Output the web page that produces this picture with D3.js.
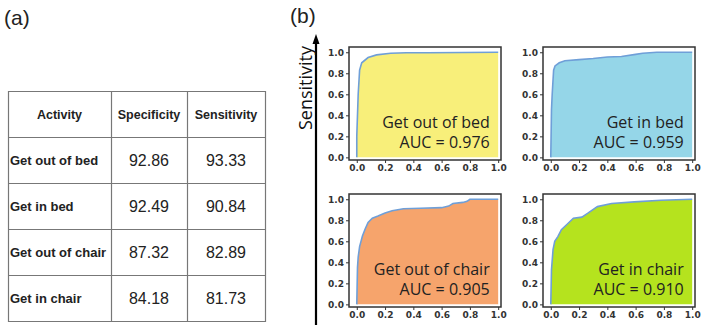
<!DOCTYPE html>
<html>
<head>
<meta charset="utf-8">
<script src="https://cdn.jsdelivr.net/npm/d3@7"></script>
<style>
  body { margin: 0; background: #fff; }
  svg { display: block; }
</style>
</head>
<body>
<script>
// table (a)
var activities = ['Get out of bed', 'Get in bed', 'Get out of chair', 'Get in chair'];
var headers = ['Activity', 'Specificity', 'Sensitivity'];
var specificity = [92.86, 92.49, 87.32, 84.18];
var sensitivity = [93.33, 90.84, 82.89, 81.73];

// ROC curves (b)
var rocTitles = ['Get out of bed', 'Get in bed', 'Get out of chair', 'Get in chair'];
var aucValues = ['0.976', '0.959', '0.905', '0.910'];
var rocFills = ['#f8ef7a', '#95d6e8', '#f6a46c', '#b5e31e'];
var fprBed = [0, 0, 0.01, 0.02, 0.035, 0.08, 0.14, 0.24, 0.35, 0.5, 0.75, 1];
var tprBed = [0, 0.2, 0.6, 0.83, 0.9, 0.95, 0.975, 0.99, 0.995, 0.996, 0.998, 1];
var fprInBed = [0, 0.005, 0.01, 0.02, 0.03, 0.06, 0.1, 0.2, 0.3, 0.4, 0.5, 0.6, 0.65, 0.75, 1];
var tprInBed = [0, 0.45, 0.6, 0.83, 0.87, 0.9, 0.92, 0.93, 0.94, 0.955, 0.96, 0.98, 0.99, 1, 1];
var fprOutChair = [0, 0.005, 0.01, 0.02, 0.04, 0.06, 0.08, 0.11, 0.15, 0.2, 0.25, 0.33, 0.45, 0.6, 0.65, 0.68, 0.75, 0.78, 0.8, 1];
var tprOutChair = [0, 0.35, 0.45, 0.55, 0.65, 0.72, 0.78, 0.82, 0.84, 0.87, 0.89, 0.91, 0.915, 0.92, 0.935, 0.96, 0.97, 0.98, 1, 1];
var fprInChair = [0, 0.005, 0.016, 0.028, 0.05, 0.075, 0.11, 0.16, 0.22, 0.26, 0.33, 0.43, 0.59, 0.78, 1];
var tprInChair = [0, 0.33, 0.52, 0.6, 0.645, 0.71, 0.755, 0.82, 0.83, 0.865, 0.93, 0.96, 0.975, 0.99, 1];
var rocFpr = [fprBed, fprInBed, fprOutChair, fprInChair];
var rocTpr = [tprBed, tprInBed, tprOutChair, tprInChair];
var ticks = [0, 0.2, 0.4, 0.6, 0.8, 1.0];

var svg = d3.select('body').append('svg').attr('width', 701).attr('height', 325);

// ---- (a) table ----
svg.append('text').attr('x', 4).attr('y', 25).attr('font-family', 'Liberation Sans, Arial, sans-serif')
  .attr('font-size', 21).attr('fill', '#222').text('(a)');

var colEdges = [8, 111, 187, 265];
var rowEdges = [91, 137, 183, 229, 275, 321];
var tbl = svg.append('g');
tbl.append('g').attr('stroke', '#777').attr('stroke-width', 1.2).selectAll('line.h').data(rowEdges).enter()
  .append('line').attr('x1', colEdges[0]).attr('x2', colEdges[3] + 1)
  .attr('y1', function(d) { return d + 0.5; }).attr('y2', function(d) { return d + 0.5; });
tbl.append('g').attr('stroke', '#777').attr('stroke-width', 1.2).selectAll('line.v').data(colEdges).enter()
  .append('line').attr('y1', rowEdges[0]).attr('y2', rowEdges[5] + 1)
  .attr('x1', function(d) { return d + 0.5; }).attr('x2', function(d) { return d + 0.5; });

tbl.selectAll('text.hdr').data(headers).enter().append('text')
  .attr('x', function(d, i) { return (colEdges[i] + colEdges[i + 1]) / 2; })
  .attr('y', (rowEdges[0] + rowEdges[1]) / 2 + 4.5)
  .attr('text-anchor', 'middle').attr('font-family', 'Liberation Sans, Arial, sans-serif')
  .attr('font-weight', 'bold').attr('font-size', 12.5).attr('fill', '#222').text(function(d) { return d; });

activities.forEach(function(a, i) {
  var cy = (rowEdges[i + 1] + rowEdges[i + 2]) / 2;
  tbl.append('text').attr('x', colEdges[0] + 2).attr('y', cy + 4.5)
    .attr('font-family', 'Liberation Sans, Arial, sans-serif').attr('font-weight', 'bold')
    .attr('font-size', 13).attr('fill', '#222').text(a);
  [specificity[i], sensitivity[i]].forEach(function(v, j) {
    tbl.append('text').attr('x', (colEdges[j + 1] + colEdges[j + 2]) / 2).attr('y', cy + 6)
      .attr('text-anchor', 'middle').attr('font-family', 'Liberation Sans, Arial, sans-serif')
      .attr('font-size', 16).attr('fill', '#222').text(d3.format('.2f')(v));
  });
});

// ---- (b) ROC panels ----
svg.append('text').attr('x', 290).attr('y', 23).attr('font-family', 'Liberation Sans, Arial, sans-serif')
  .attr('font-size', 21).attr('fill', '#222').text('(b)');

// vertical arrow
svg.append('line').attr('x1', 316).attr('x2', 316).attr('y1', 325).attr('y2', 40)
  .attr('stroke', '#000').attr('stroke-width', 2.2);
svg.append('path').attr('d', 'M316,34 L312.5,44 L319.5,44 Z').attr('fill', '#000');
svg.append('text').attr('transform', 'translate(312,88)rotate(-90)').attr('text-anchor', 'middle')
  .attr('font-family', 'Open Sans, sans-serif').attr('font-size', 18).attr('fill', '#111').text('Sensitivity');

var panelPos = [[349, 47], [543, 47], [349, 194], [543, 194]];
var pw = 152, ph = 113;
var x = d3.scaleLinear().domain([-0.055, 1.02]).range([0, pw]);
var y = d3.scaleLinear().domain([-0.025, 1.05]).range([ph, 0]);

rocTitles.forEach(function(title, k) {
  var pts = rocFpr[k].map(function(f, i) { return [f, rocTpr[k][i]]; });
  var g = svg.append('g').attr('transform', 'translate(' + panelPos[k][0] + ',' + panelPos[k][1] + ')');
  g.append('path').datum(pts).attr('fill', rocFills[k])
    .attr('d', d3.area().x(function(d) { return x(d[0]); }).y0(y(0)).y1(function(d) { return y(d[1]); }));
  g.append('path').datum(pts).attr('fill', 'none').attr('stroke', '#6f9fd8').attr('stroke-width', 1.6)
    .attr('d', d3.line().x(function(d) { return x(d[0]); }).y(function(d) { return y(d[1]); }));

  var xa = g.append('g').attr('transform', 'translate(0,' + ph + ')')
    .call(d3.axisBottom(x).tickValues(ticks).tickFormat(d3.format('.1f')).tickSize(3).tickPadding(2));
  var ya = g.append('g').call(d3.axisLeft(y).tickValues(ticks).tickFormat(d3.format('.1f')).tickSize(3).tickPadding(2));
  [xa, ya].forEach(function(a) {
    a.select('.domain').remove();
    a.selectAll('line').attr('stroke', '#333');
    a.selectAll('text').attr('font-family', 'DejaVu Sans, sans-serif').attr('font-weight', 'bold')
      .attr('font-size', 9).attr('fill', '#333');
  });
  g.append('rect').attr('width', pw).attr('height', ph).attr('fill', 'none')
    .attr('stroke', '#333').attr('stroke-width', 1.5);

  var t = g.append('g').attr('font-family', 'Open Sans, sans-serif').attr('font-size', 16)
    .attr('fill', '#222').attr('text-anchor', 'end');
  t.append('text').attr('x', x(0.94)).attr('y', y(0.28)).text(title);
  t.append('text').attr('x', x(0.94)).attr('y', y(0.085)).text('AUC = ' + aucValues[k]);
});
</script>
</body>
</html>
